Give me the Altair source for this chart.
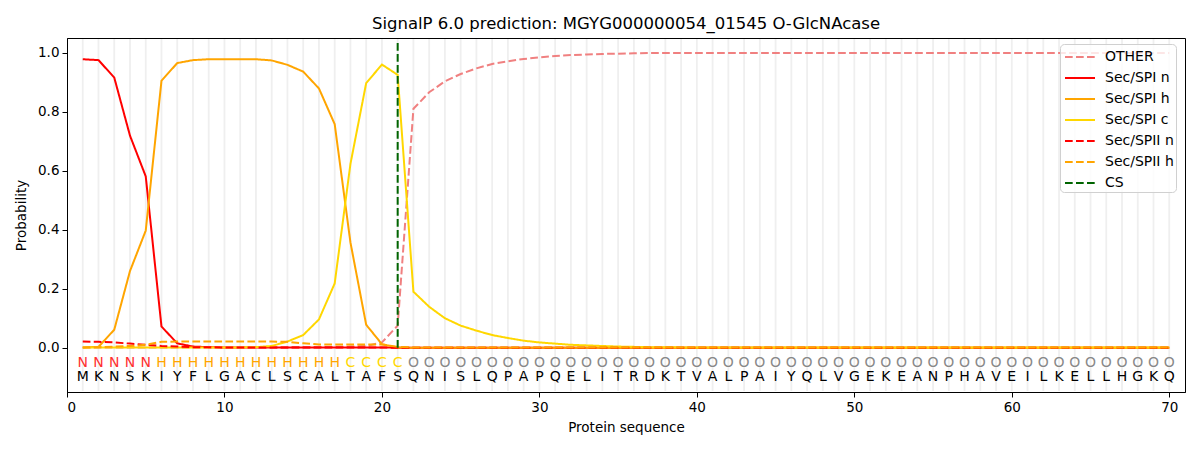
import altair as alt
import pandas as pd

positions = list(range(1, 71))
sequence = list("MKNSKIYFLGACLSCALTAFSQNISLQPAPQELITRDKTVALPAIYQLVGEKEANPHAVEILKELLHGKQ")
labels = list("NNNNN" + "HHHHHHHHHHHH" + "CCCC" + "O" * 49)

other = [0.001, 0.001, 0.001, 0.001, 0.001, 0.001, 0.001, 0.001, 0.001, 0.001,
         0.001, 0.001, 0.001, 0.001, 0.002, 0.002, 0.003, 0.004, 0.006, 0.018,
         0.075, 0.810, 0.866, 0.903, 0.928, 0.947, 0.962, 0.971, 0.979, 0.984,
         0.989, 0.992, 0.994, 0.996, 0.997, 0.998, 0.999, 0.999, 0.999, 0.999,
         0.999, 0.999, 0.999, 0.999, 0.999, 0.999, 0.999, 0.999, 0.999, 0.999,
         0.999, 0.999, 0.999, 0.999, 0.999, 0.999, 0.999, 0.999, 0.999, 0.999,
         0.999, 0.999, 0.999, 0.999, 0.999, 0.999, 0.999, 0.999, 0.999, 0.999]
spi_n = [0.978, 0.975, 0.916, 0.719, 0.581, 0.072, 0.015, 0.004, 0.002, 0.001,
         0.001, 0.001, 0.001, 0.001, 0.001, 0.001, 0.001, 0.001, 0.001, 0.001,
         0.000, 0.000, 0.000, 0.000, 0.000, 0.000, 0.000, 0.000, 0.000, 0.000,
         0.000, 0.000, 0.000, 0.000, 0.000, 0.000, 0.000, 0.000, 0.000, 0.000,
         0.000, 0.000, 0.000, 0.000, 0.000, 0.000, 0.000, 0.000, 0.000, 0.000,
         0.000, 0.000, 0.000, 0.000, 0.000, 0.000, 0.000, 0.000, 0.000, 0.000,
         0.000, 0.000, 0.000, 0.000, 0.000, 0.000, 0.000, 0.000, 0.000, 0.000]
spi_h = [0.001, 0.003, 0.061, 0.260, 0.397, 0.905, 0.965, 0.975, 0.978, 0.978,
         0.978, 0.978, 0.974, 0.959, 0.936, 0.879, 0.758, 0.357, 0.078, 0.012,
         0.001, 0.000, 0.000, 0.000, 0.000, 0.000, 0.000, 0.000, 0.000, 0.000,
         0.000, 0.000, 0.000, 0.000, 0.000, 0.000, 0.000, 0.000, 0.000, 0.000,
         0.000, 0.000, 0.000, 0.000, 0.000, 0.000, 0.000, 0.000, 0.000, 0.000,
         0.000, 0.000, 0.000, 0.000, 0.000, 0.000, 0.000, 0.000, 0.000, 0.000,
         0.000, 0.000, 0.000, 0.000, 0.000, 0.000, 0.000, 0.000, 0.000, 0.000]
spi_c = [0.001, 0.001, 0.001, 0.001, 0.001, 0.001, 0.001, 0.001, 0.001, 0.001,
         0.001, 0.002, 0.006, 0.021, 0.043, 0.096, 0.218, 0.623, 0.897, 0.960,
         0.925, 0.190, 0.139, 0.100, 0.075, 0.058, 0.043, 0.033, 0.024, 0.018,
         0.014, 0.010, 0.008, 0.006, 0.004, 0.003, 0.002, 0.002, 0.001, 0.001,
         0.001, 0.001, 0.001, 0.001, 0.001, 0.001, 0.001, 0.001, 0.001, 0.001,
         0.001, 0.001, 0.001, 0.001, 0.001, 0.001, 0.001, 0.001, 0.001, 0.001,
         0.001, 0.001, 0.001, 0.001, 0.001, 0.001, 0.001, 0.001, 0.001, 0.001]
spii_n = [0.021, 0.020, 0.018, 0.014, 0.010, 0.006, 0.004, 0.002, 0.002, 0.001,
          0.001, 0.001, 0.001, 0.001, 0.001, 0.001, 0.001, 0.001, 0.001, 0.001,
          0.000, 0.000, 0.000, 0.000, 0.000, 0.000, 0.000, 0.000, 0.000, 0.000,
          0.000, 0.000, 0.000, 0.000, 0.000, 0.000, 0.000, 0.000, 0.000, 0.000,
          0.000, 0.000, 0.000, 0.000, 0.000, 0.000, 0.000, 0.000, 0.000, 0.000,
          0.000, 0.000, 0.000, 0.000, 0.000, 0.000, 0.000, 0.000, 0.000, 0.000,
          0.000, 0.000, 0.000, 0.000, 0.000, 0.000, 0.000, 0.000, 0.000, 0.000]
spii_h = [0.001, 0.002, 0.004, 0.006, 0.010, 0.020, 0.021, 0.021, 0.021, 0.021,
          0.021, 0.021, 0.021, 0.020, 0.015, 0.011, 0.011, 0.011, 0.011, 0.011,
          0.003, 0.001, 0.001, 0.001, 0.001, 0.001, 0.001, 0.001, 0.001, 0.001,
          0.001, 0.001, 0.001, 0.001, 0.001, 0.001, 0.001, 0.001, 0.001, 0.001,
          0.001, 0.001, 0.001, 0.001, 0.001, 0.001, 0.001, 0.001, 0.001, 0.001,
          0.001, 0.001, 0.001, 0.001, 0.001, 0.001, 0.001, 0.001, 0.001, 0.001,
          0.001, 0.001, 0.001, 0.001, 0.001, 0.001, 0.001, 0.001, 0.001, 0.001]

cs_position = 21
cs_top = 1.04

series_names = ["OTHER", "Sec/SPI n", "Sec/SPI h", "Sec/SPI c", "Sec/SPII n", "Sec/SPII h", "CS"]
series_colors = ["#F08080", "#FF0000", "#FFA500", "#FFD700", "#FF0000", "#FFA500", "#006400"]
series_dash = [[7.7, 3.3], [1, 0], [1, 0], [1, 0], [7.7, 3.3], [7.7, 3.3], [7.7, 3.3]]
label_colors = {"N": "#FF3030", "H": "#FFA500", "C": "#FFD700", "O": "#888888"}

series_values = [other, spi_n, spi_h, spi_c, spii_n, spii_h]
rows = []
for order, (name, vals) in enumerate(zip(series_names[:6], series_values)):
    for p, v in zip(positions, vals):
        rows.append({"pos": p, "prob": v, "series": name, "order": order})
lines_df = pd.DataFrame(rows)

cs_df = pd.DataFrame({"pos": [cs_position], "y0": [0.0], "y1": [cs_top], "series": ["CS"]})
grid_df = pd.DataFrame({"pos": positions, "y0": [-0.147] * 70, "y1": [1.047] * 70})
text_df = pd.DataFrame({
    "pos": positions,
    "aa": sequence,
    "lab": labels,
    "labcolor": [label_colors[l] for l in labels],
    "y_lab": [-0.05] * 70,
    "y_aa": [-0.098] * 70,
})

FONT = "DejaVu Sans"
xscale = alt.Scale(domain=[0, 71], nice=False, zero=False)
yscale = alt.Scale(domain=[-0.15, 1.05], nice=False, zero=False)

color_scale = alt.Scale(domain=series_names, range=series_colors)
dash_scale = alt.Scale(domain=series_names, range=series_dash)

legend = alt.Legend(
    title=None, orient="none", legendX=993, legendY=6,
    symbolType="M-1.5,0L1.5,0", symbolSize=400, symbolStrokeWidth=2,
    symbolOffset=7,
    labelFont=FONT, labelFontSize=14, labelColor="#000000",
    rowPadding=3, padding=2, labelOffset=14,
    strokeColor="#d0d0d0", cornerRadius=4, fillColor="rgba(255,255,255,0.8)",
    offset=0, values=series_names,
)

grid = alt.Chart(grid_df).mark_rule(color="#efefef", strokeWidth=1.8).encode(
    x=alt.X("pos:Q", scale=xscale),
    y=alt.Y("y0:Q", scale=yscale),
    y2="y1:Q",
)

lines = alt.Chart(lines_df).mark_line(strokeWidth=2, clip=True).encode(
    x=alt.X("pos:Q", scale=xscale,
            axis=alt.Axis(values=[0, 10, 20, 30, 40, 50, 60, 70], title="Protein sequence", titlePadding=7)),
    y=alt.Y("prob:Q", scale=yscale,
            axis=alt.Axis(values=[0, 0.2, 0.4, 0.6, 0.8, 1.0], format=".1f", title="Probability", titlePadding=9)),
    color=alt.Color("series:N", scale=color_scale, legend=legend, sort=series_names),
    strokeDash=alt.StrokeDash("series:N", scale=dash_scale, legend=legend, sort=series_names),
    order=alt.Order("order:Q"),
)

cs_rule = alt.Chart(cs_df).mark_rule(strokeWidth=2).encode(
    x=alt.X("pos:Q", scale=xscale),
    y=alt.Y("y0:Q", scale=yscale),
    y2="y1:Q",
    color=alt.Color("series:N", scale=color_scale, legend=legend),
    strokeDash=alt.StrokeDash("series:N", scale=dash_scale, legend=legend),
)

lab_text = alt.Chart(text_df).mark_text(font=FONT, fontSize=14, baseline="middle").encode(
    x=alt.X("pos:Q", scale=xscale),
    y=alt.Y("y_lab:Q", scale=yscale),
    text="lab:N",
    color=alt.Color("labcolor:N", scale=None),
)

aa_text = alt.Chart(text_df).mark_text(font=FONT, fontSize=14, baseline="middle", color="#000000").encode(
    x=alt.X("pos:Q", scale=xscale),
    y=alt.Y("y_aa:Q", scale=yscale),
    text="aa:N",
)

chart = alt.layer(grid, lines, cs_rule, lab_text, aa_text).properties(
    width=1118, height=354,
    title=alt.TitleParams("SignalP 6.0 prediction: MGYG000000054_01545 O-GlcNAcase",
                          font=FONT, fontSize=16.5, fontWeight="normal", color="#000000",
                          anchor="middle", offset=5),
    autosize=alt.AutoSizeParams(type="none"),
    padding={"left": 59, "top": 30, "right": 7, "bottom": 50},
).resolve_scale(color="shared", strokeDash="shared").configure_view(
    stroke="#000000", strokeWidth=1
).configure_axis(
    labelFont=FONT, titleFont=FONT, labelFontSize=13.5, titleFontSize=13.5,
    labelColor="#000000", titleColor="#000000", titleFontWeight="normal",
    domainColor="#000000", tickColor="#000000", tickSize=5, grid=False,
    labelPadding=3,
)

chart.save("out.html", embed_options={"renderer": "svg", "actions": False})
